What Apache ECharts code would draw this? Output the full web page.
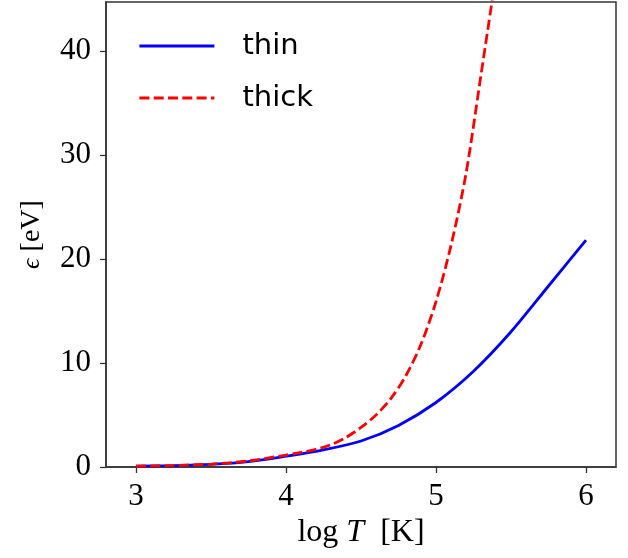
<!DOCTYPE html>
<html>
<head>
<meta charset="utf-8">
<script src="https://cdn.jsdelivr.net/npm/echarts@6/dist/echarts.min.js"></script>
<style>
  html, body { margin: 0; padding: 0; background: #fff; }
  #chart { width: 628px; height: 558px; }
</style>
</head>
<body>
<div id="chart"></div>
<script>
// Mean photon energy vs. temperature, optically thin and thick cases
const logT_thin = [3.0, 3.25, 3.5, 3.75, 4.0, 4.25, 4.5, 4.75, 5.0, 5.25, 5.5, 5.75, 6.0];
const eps_thin  = [0.08, 0.14, 0.26, 0.52, 1.04, 1.65, 2.5, 4.0, 6.2, 9.2, 13.0, 17.4, 21.8];

const logT_thick = [3.0, 3.25, 3.5, 3.75, 4.0, 4.1, 4.2, 4.3, 4.4, 4.5, 4.6, 4.7, 4.8, 4.9, 5.0, 5.1, 5.2, 5.3, 5.375];
const eps_thick  = [0.08, 0.15, 0.28, 0.58, 1.15, 1.4, 1.7, 2.15, 2.85, 3.8, 5.0, 6.6, 8.8, 11.8, 15.9, 21.3, 28.2, 37.7, 44.9];

const xTicks = [3, 4, 5, 6];
const yTicks = [0, 10, 20, 30, 40];

const seriesNames = ['thin', 'thick'];

const pairs = (xs, ys) => xs.map((x, i) => [x, ys[i]]);

const serif = '"Liberation Serif", "DejaVu Serif", serif';
const frameColor = '#333';

const chart = echarts.init(document.getElementById('chart'), null, { renderer: 'canvas' });

chart.setOption({
  animation: false,
  backgroundColor: '#fff',
  grid: {
    left: 106, right: 12, top: 2, bottom: 91,
    show: true, borderColor: frameColor, borderWidth: 1.5, backgroundColor: 'transparent'
  },
  legend: {
    orient: 'vertical',
    left: 138,
    top: 31,
    padding: 0,
    itemWidth: 75,
    itemHeight: 14,
    itemGap: 22,
    itemStyle: { opacity: 0 },
    lineStyle: { width: 2.8 },
    textStyle: {
      fontFamily: '"DejaVu Sans", sans-serif',
      fontSize: 29,
      color: '#000',
      lineHeight: 30,
      padding: [0, 0, 0, 23]
    },
    data: seriesNames
  },
  xAxis: {
    type: 'value',
    min: 2.8,
    max: 6.2,
    name: '{t|log }{i|T}{t|  [K]}',
    nameLocation: 'middle',
    nameGap: 44,
    nameTextStyle: {
      rich: {
        t: { fontFamily: serif, fontSize: 32, color: '#000' },
        i: { fontFamily: serif, fontSize: 32, fontStyle: 'italic', color: '#000' }
      }
    },
    splitLine: { show: false },
    axisLine: { show: true, onZero: false, lineStyle: { color: frameColor, width: 1.5 } },
    axisTick: {
      show: true, inside: false, length: 6, customValues: xTicks,
      lineStyle: { color: frameColor, width: 1.3 }
    },
    axisLabel: {
      customValues: xTicks,
      margin: 14,
      fontFamily: serif,
      fontSize: 31,
      color: '#000'
    }
  },
  yAxis: {
    type: 'value',
    min: 0,
    max: 44.7,
    name: '{i|ϵ}{t| [eV]}',
    nameLocation: 'middle',
    nameGap: 60,
    nameRotate: 90,
    nameTextStyle: {
      rich: {
        t: { fontFamily: serif, fontSize: 28, color: '#000' },
        i: { fontFamily: serif, fontSize: 26, fontStyle: 'italic', color: '#000' }
      }
    },
    splitLine: { show: false },
    axisLine: { show: true, onZero: false, lineStyle: { color: frameColor, width: 1.5 } },
    axisTick: {
      show: true, inside: false, length: 6, customValues: yTicks,
      lineStyle: { color: frameColor, width: 1.3 }
    },
    axisLabel: {
      customValues: yTicks,
      margin: 15,
      fontFamily: serif,
      fontSize: 31,
      color: '#000'
    }
  },
  series: [
    {
      name: seriesNames[0],
      type: 'line',
      data: pairs(logT_thin, eps_thin),
      showSymbol: false,
      symbol: 'none',
      smooth: 0.3,
      clip: true,
      color: '#0000ff',
      lineStyle: { color: '#0000ff', width: 2.8 },
      z: 3
    },
    {
      name: seriesNames[1],
      type: 'line',
      data: pairs(logT_thick, eps_thick),
      showSymbol: false,
      symbol: 'none',
      smooth: 0.3,
      clip: true,
      color: '#ff0000',
      lineStyle: { color: '#ff0000', width: 2.8, type: [10, 4.3] },
      z: 4
    }
  ]
});
</script>
</body>
</html>
